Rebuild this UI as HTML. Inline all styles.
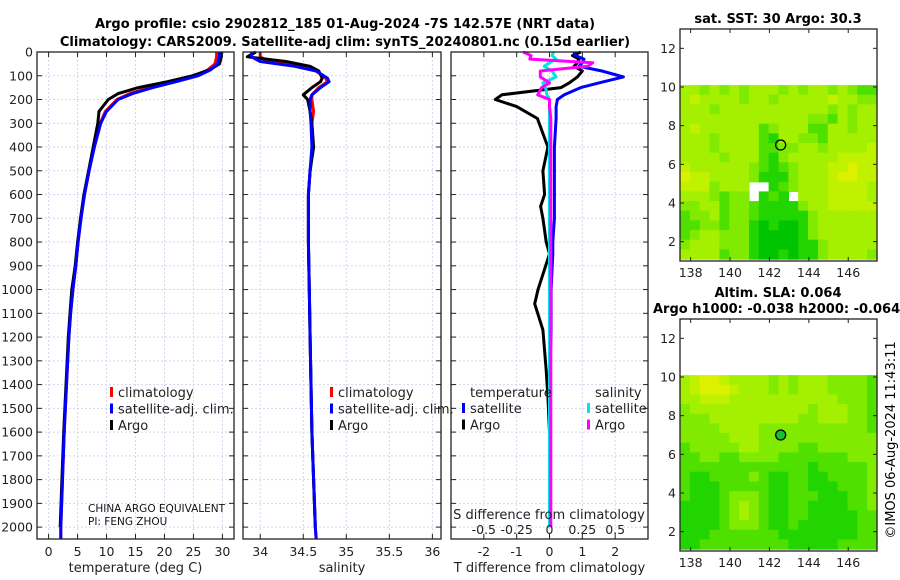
<!DOCTYPE html>
<html><head><meta charset="utf-8">
<style>
html,body{margin:0;padding:0;background:#fff;}
svg{display:block;font-family:"DejaVu Sans","Liberation Sans",sans-serif;}
</style></head>
<body>
<svg id="fig" width="900" height="580" viewBox="0 0 900 580" xmlns="http://www.w3.org/2000/svg">
<text x="345" y="28" font-size="13" font-weight="bold" text-anchor="middle">Argo profile: csio 2902812_185 01-Aug-2024 -7S 142.57E (NRT data)</text>
<text x="345" y="46" font-size="13" font-weight="bold" text-anchor="middle">Climatology: CARS2009. Satellite-adj clim: synTS_20240801.nc (0.15d earlier)</text>
<text x="778" y="23" font-size="13" font-weight="bold" text-anchor="middle">sat. SST: 30 Argo: 30.3</text>
<text x="778" y="297" font-size="13" font-weight="bold" text-anchor="middle">Altim. SLA: 0.064</text>
<text x="653" y="313" font-size="13" font-weight="bold">Argo h1000: -0.038 h2000: -0.064</text>
<text transform="translate(895,440) rotate(-90)" font-size="13" text-anchor="middle">©IMOS 06-Aug-2024 11:43:11</text>
<g id="root"></g>
</svg>
<script>
// ---- Data ----
const depthTicks = [0,100,200,300,400,500,600,700,800,900,1000,1100,1200,1300,1400,1500,1600,1700,1800,1900,2000];
const tempTicks = [0,5,10,15,20,25,30];
const salTicks = [34,34.5,35,35.5,36];
const salTickLabels = ["34","34.5","35","35.5","36"];
const tdiffTicks = [-2,-1,0,1,2];
const sdiffTicks = [-0.5,-0.25,0,0.25,0.5];
const sdiffTickLabels = ["-0.5","-0.25","0","0.25","0.5"];

const tDepth = [0,20,50,75,100,125,150,175,200,250,300,400,500,600,700,800,900,1000,1100,1200,1400,1600,1800,2000,2050];
const tClim  = [29.0,29.0,28.7,27.5,25.3,21.5,17.5,14.0,11.8,9.8,8.9,7.8,7.0,6.2,5.6,5.1,4.7,4.2,3.8,3.5,3.1,2.7,2.4,2.1,2.1];
const tSat   = [29.5,29.5,29.1,28.0,25.8,22.0,18.0,14.5,12.0,10.0,9.0,7.9,7.0,6.2,5.6,5.1,4.7,4.2,3.8,3.5,3.1,2.7,2.4,2.1,2.1];
const tArgoDepth = [0,20,50,75,100,125,150,175,200,250,300,400,500,600,700,800,900,1000,1100,1200,1400,1600,1800,2000];
const tArgo  = [29.9,29.8,29.5,27.8,24.8,20.5,15.5,12.0,10.3,8.7,8.5,7.7,6.9,6.1,5.5,5.0,4.6,4.0,3.7,3.4,3.0,2.6,2.3,2.0];

const sDepth = [0,20,40,60,80,110,125,150,180,200,250,300,400,500,600,800,1000,1200,1400,1600,1800,2000,2050];
const sClim  = [34.0,34.0,34.1,34.45,34.65,34.76,34.78,34.68,34.6,34.6,34.62,34.6,34.61,34.58,34.56,34.56,34.57,34.58,34.59,34.6,34.62,34.64,34.65];
const sSat   = [33.9,33.9,34.0,34.4,34.65,34.78,34.8,34.7,34.6,34.58,34.58,34.59,34.6,34.58,34.56,34.56,34.57,34.58,34.59,34.6,34.62,34.64,34.65];
const sArgoDepth = [0,20,40,60,80,110,125,150,180,200,250,300,400,500,600,800,1000,1200,1400,1600,1800,2000];
const sArgo  = [33.95,33.85,34.3,34.58,34.68,34.72,34.7,34.6,34.5,34.55,34.58,34.6,34.62,34.58,34.56,34.56,34.57,34.58,34.59,34.6,34.62,34.64];

const dDepth = [0,15,30,45,60,80,105,130,150,180,200,230,280,400,500,600,650,700,800,850,1000,1060,1170,1340,1450,1600,1800,2000];
const dTSat  = [0.74,0.8,1.05,1.0,0.9,1.6,2.25,1.5,0.95,0.45,0.24,0.2,0.2,0.15,0.15,0.15,0.15,0.15,0.1,0.1,0.05,0.05,0.05,0.02,0.02,0,0,0];
const dTArgo = [0.95,0.7,0.9,0.85,0.75,1.0,0.85,0.6,0.35,-1.45,-1.65,-1.0,-0.37,-0.05,-0.2,-0.15,-0.27,-0.2,-0.1,0.0,-0.35,-0.45,-0.2,-0.1,-0.05,0,0,0];
const dSSat  = [0.03,0.02,0.05,0.0,-0.04,0.02,0.05,-0.05,-0.03,-0.02,0.0,0.0,0.0,0.0,0.0,0.0,0.0,0.0,0.0,0.0,0.0,0.0,0.0,0.0,0.0,0.0,0.0,0.0];
const dSArgo = [-0.2,-0.14,-0.15,0.33,0.29,-0.07,-0.07,0.0,-0.06,-0.09,0.0,0.0,0.01,0.01,0.01,0.01,0.01,0.01,0.01,0.01,0.01,0.01,0.01,0.01,0.01,0.01,0.01,0.01];

const latTicks = [2,4,6,8,10,12];
const lonTicks = [138,140,142,144,146];
const argoLon = 142.57, argoLat = 7.0;
// grid rows from lat 10 (top) down to 1, 0.5 deg cells, cols from lon 137.5 to 147.5
const sstGrid = [
"55454545554545545433",
"56555545545555565544",
"55545555555555545455",
"55555555555554435455",
"56555555345553355455",
"55545555325544355555",
"55545555334455455556",
"55554555324555556666",
"65555554323455566766",
"76655554222455567766",
"6664555..23455566665",
"5554344.232.55566665",
"44553443222245566666",
"34453443222224555555",
"33443442121124555555",
"34554442111124555555",
"45554442111122455555",
"55553442112122455554"];
const slaGrid = [
"56776555545455544443",
"56777655545455544443",
"55666555555555554443",
"45555555555554555443",
"44455555555544555443",
"44445555444444444443",
"44444555444444444444",
"34444455444433444444",
"33443344443333333444",
"33333333333332333334",
"32233334322332233334",
"32223333322332223334",
"32223444322333222334",
"22223454322332222334",
"22223454322332222233",
"22223444322322222233",
"22233333332222222233",
"22333333333222223333"];
const cmap = ["#10b0a0","#00c400","#22d400","#50e000","#80ea00","#a4f000","#c0f200","#dcf000","#f0d040","#f0b040"];

// ---- Drawing ----
const NS="http://www.w3.org/2000/svg";
const root=document.getElementById('root');
function el(tag,attrs,parent){const e=document.createElementNS(NS,tag);for(const k in attrs)e.setAttribute(k,attrs[k]);(parent||root).appendChild(e);return e;}
function txt(s,attrs,parent){const e=el('text',attrs,parent);e.textContent=s;return e;}

const yTop=52, yBot=539, dMin=0, dMax=2050;
const yD = d => yTop + (d-dMin)/(dMax-dMin)*(yBot-yTop);

function panel(name,x0,x1,xmin,xmax){
  const g=el('g',{});
  
  
  const sx=v=>x0+(v-xmin)/(xmax-xmin)*(x1-x0);
  return {g,sx,x0,x1};
}
function grid(p,xticks){
  depthTicks.forEach(d=>{
    const l=el('line',{x1:p.x0,x2:p.x1,y1:yD(d),y2:yD(d),stroke:'#d2d6ee','stroke-width':1,'stroke-dasharray':'2,2'},p.g);
    
    
  });
  xticks.forEach(v=>{
    const l=el('line',{x1:p.sx(v),x2:p.sx(v),y1:yTop,y2:yBot,stroke:'#d2d6ee','stroke-width':1,'stroke-dasharray':'2,2'},p.g);
    
    
  });
}
function frame(p,xticks,labels,showY,xtitle){
  const r=el('rect',{x:p.x0,y:yTop,width:p.x1-p.x0,height:yBot-yTop,fill:'none',stroke:'#222','stroke-width':1.3},p.g);
  
  
  depthTicks.forEach(d=>{
    el('line',{x1:p.x0,x2:p.x0+5,y1:yD(d),y2:yD(d),stroke:'#222'},p.g);
    el('line',{x1:p.x1-5,x2:p.x1,y1:yD(d),y2:yD(d),stroke:'#222'},p.g);
    if(showY){
      const t=txt(String(d),{x:p.x0-4,y:yD(d)+4.5,'font-size':12.5,'text-anchor':'end',fill:'#222'},p.g);
      
      
    }
  });
  xticks.forEach((v,i)=>{
    el('line',{x1:p.sx(v),x2:p.sx(v),y1:yBot-5,y2:yBot,stroke:'#222'},p.g);
    el('line',{x1:p.sx(v),x2:p.sx(v),y1:yTop,y2:yTop+5,stroke:'#222'},p.g);
    const t=txt(labels[i],{x:p.sx(v),y:yBot+17,'font-size':12.5,'text-anchor':'middle',fill:'#222'},p.g);
    
    
  });
  const t=txt(xtitle,{x:(p.x0+p.x1)/2,y:yBot+33,'font-size':13,'text-anchor':'middle',fill:'#222'},p.g);
  
  
}
function line(p,xs,ds,color,name,sx){
  const f=sx||p.sx;
  const pts=xs.map((v,i)=>f(v).toFixed(1)+','+yD(ds[i]).toFixed(1)).join(' ');
  const l=el('polyline',{points:pts,fill:'none',stroke:color,'stroke-width':3,'stroke-linejoin':'round'},p.g);
  
  
}
function legend(p,x,y,items){
  items.forEach((it,i)=>{
    const yy=y+i*16.5;
    if(it[0]){
      const b=el('rect',{x:x,y:yy-10,width:3,height:10,fill:it[0]},p.g);
      
      
    }
    const t=txt(it[1],{x:x+8,y:yy,'font-size':13,fill:'#222'},p.g);
    
    
  });
}

// Temperature panel
const p1=panel('temperature-panel',37,234,-2,32);
grid(p1,tempTicks);
line(p1,tClim,tDepth,'#ff0000','climatology-temp-line');
line(p1,tArgo,tArgoDepth,'#000000','argo-temp-line');
line(p1,tSat,tDepth,'#0000ff','satellite-temp-line');
frame(p1,tempTicks,tempTicks.map(String),true,'temperature (deg C)');
legend(p1,110,397,[['#ff0000','climatology'],['#0000ff','satellite-adj. clim.'],['#000000','Argo']]);
const pn1=txt('CHINA ARGO EQUIVALENT',{x:88,y:512,'font-size':10.5,fill:'#111'},p1.g);


const pn2=txt('PI: FENG ZHOU',{x:88,y:525,'font-size':10.5,fill:'#111'},p1.g);



// Salinity panel
const p2=panel('salinity-panel',243,441,33.8,36.1);
grid(p2,salTicks);
line(p2,sClim,sDepth,'#ff0000','climatology-sal-line');
line(p2,sArgo,sArgoDepth,'#000000','argo-sal-line');
line(p2,sSat,sDepth,'#0000ff','satellite-sal-line');
frame(p2,salTicks,salTickLabels,false,'salinity');
legend(p2,330,397,[['#ff0000','climatology'],['#0000ff','satellite-adj. clim.'],['#000000','Argo']]);

// Difference panel
const p3=panel('difference-panel',451,648,-3,3);
const sxS=v=>p3.sx(v*4);
grid(p3,tdiffTicks);
line(p3,dTArgo,dDepth,'#000000','argo-tdiff-line');
line(p3,dTSat,dDepth,'#0000ff','satellite-tdiff-line');
line(p3,dSSat,dDepth,'#00e5e5','satellite-sdiff-line',sxS);
line(p3,dSArgo,dDepth,'#ff00ff','argo-sdiff-line',sxS);
frame(p3,tdiffTicks,tdiffTicks.map(String),false,'T difference from climatology');
const lh1=txt('temperature',{x:470,y:397,'font-size':13,fill:'#222'},p3.g);


const lh2=txt('salinity',{x:595,y:397,'font-size':13,fill:'#222'},p3.g);


legend(p3,462,413,[['#0000ff','satellite'],['#000000','Argo']]);
legend(p3,587,413,[['#00e5e5','satellite'],['#ff00ff','Argo']]);
const sat=txt('S difference from climatology',{x:549,y:519,'font-size':13,'text-anchor':'middle',fill:'#222'},p3.g);


sdiffTicks.forEach((v,i)=>{
  const t=txt(sdiffTickLabels[i],{x:sxS(v),y:534,'font-size':12.5,'text-anchor':'middle',fill:'#222'},p3.g);
  
  
});

// Maps
function map(name,yT,yB,gridRows){
  const x0=680,x1=877,lonMin=137.46,lonMax=147.46,latMin=1,latMax=13;
  const g=el('g',{});
  
  
  const sx=v=>x0+(v-lonMin)/(lonMax-lonMin)*(x1-x0);
  const sy=v=>yB-(v-latMin)/(latMax-latMin)*(yB-yT);
  gridRows.forEach((row,r)=>{
    const latTop=10.1-r*0.5, latBot=Math.max(1,latTop-0.5);
    for(let c=0;c<row.length;c++){
      const ch=row[c]; if(ch==='.') continue;
      const lonL=Math.max(lonMin,137.5+c*0.5-0.04), lonR=Math.min(lonMax,137.5+(c+1)*0.5-0.04+ (c===row.length-1?1:0));
      const L=c===0?x0:sx(lonL);
      const cell=el('rect',{x:L.toFixed(1),y:sy(latTop).toFixed(1),width:(sx(lonR)-L+0.6).toFixed(1),height:(sy(latBot)-sy(latTop)+0.6).toFixed(1),fill:cmap[+ch]},g);
      
      
    }
  });
  const fr=el('rect',{x:x0,y:yT,width:x1-x0,height:yB-yT,fill:'none',stroke:'#222','stroke-width':1.3},g);
  
  
  latTicks.forEach(v=>{
    el('line',{x1:x0,x2:x0+4,y1:sy(v),y2:sy(v),stroke:'#222'},g);
    el('line',{x1:x1-4,x2:x1,y1:sy(v),y2:sy(v),stroke:'#222'},g);
    const t=txt(String(v),{x:x0-4,y:sy(v)+4.5,'font-size':12.5,'text-anchor':'end',fill:'#222'},g);
    
    
  });
  lonTicks.forEach(v=>{
    el('line',{x1:sx(v),x2:sx(v),y1:yB-4,y2:yB,stroke:'#222'},g);
    el('line',{x1:sx(v),x2:sx(v),y1:yT,y2:yT+4,stroke:'#222'},g);
    const t=txt(String(v),{x:sx(v),y:yB+16,'font-size':12.5,'text-anchor':'middle',fill:'#222'},g);
    
    
  });
  return {g,sx,sy};
}
const m1=map('sst-map',29,261,sstGrid);
const c1=el('circle',{cx:m1.sx(argoLon),cy:m1.sy(argoLat),r:5,fill:'none',stroke:'#000','stroke-width':1.3},m1.g);


const m2=map('sla-map',319,551,slaGrid);
const c2=el('circle',{cx:m2.sx(argoLon),cy:m2.sy(argoLat),r:5,fill:'#18c030',stroke:'#000','stroke-width':1.3},m2.g);


</script>
</body></html>
